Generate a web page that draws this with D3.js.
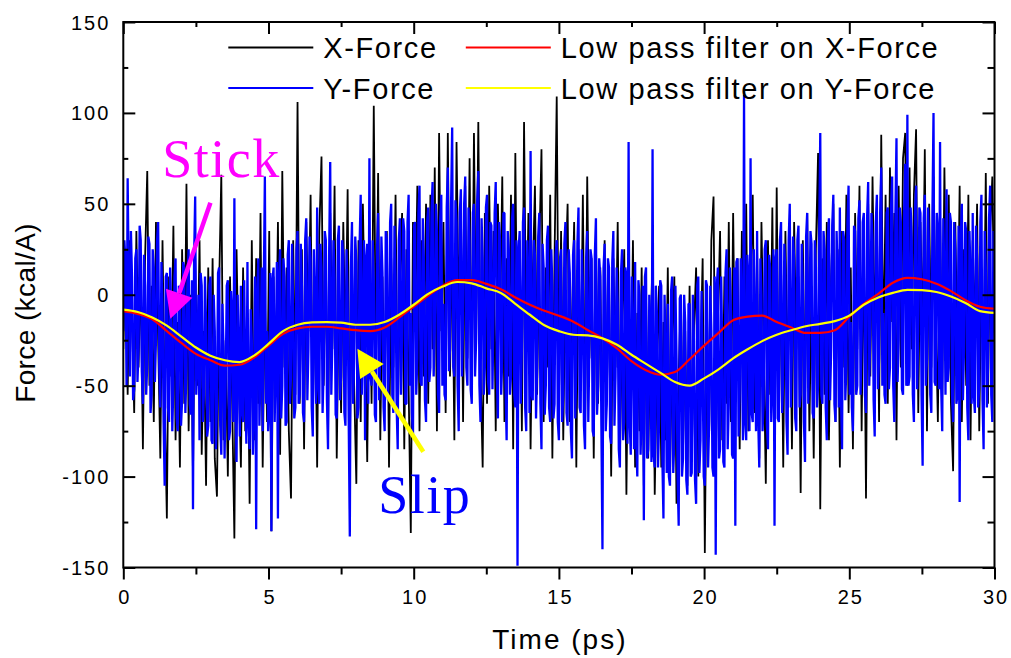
<!DOCTYPE html>
<html>
<head>
<meta charset="utf-8">
<script src="https://cdn.jsdelivr.net/npm/d3@7"></script>
<style>
    body { margin: 0; background: #fff; }
    text { font-family: "Liberation Sans", Arial, sans-serif; fill: #000; }
</style>
</head>
<body>
<div id="chart"></div>
<script>
// sampling steps of the raw force signals (ps)
var xStep = 0.075;
var yStep = 0.0375;

// raw X force, black (kcal/A)
var xForce = [
    -30, 25, -55, 30, -10, -65, 35, -40, 15, -85, 20, 68, -50, 5, -70, 40, -25, -90, 30, -60,
    -123, 10, -45, 38, -80, -15, -95, 25, -60, 61, -75, 0, -100, 20, -50, 30, -88, -20, -105, 15,
    -70, 20, -90, -111, 5, 66, -80, -25, -100, 10, -60, -134, 25, -45, -95, 15, -75, -10, -115, 30,
    -80, 20, -60, 45, -95, 0, -70, 35, -130, 10, -50, 40, -88, 68, -40, 15, -75, -112, 30, -55,
    106, -60, 25, -85, 40, -20, 55, -70, 10, -95, 35, 76, -50, 20, -80, 45, -30, 60, -90, 5,
    -65, 40, -30, 58, -85, 15, -50, -104, 30, -70, 50, -20, -92, 25, -60, 104, -40, 67, -80, 10,
    -55, 35, -95, 20, -40, 55, -70, 5, 45, -85, 25, -50, -131, 40, -20, 60, -75, 30, -45, 50,
    -60, 55, -30, 70, -75, 89, -20, 40, -65, 89, -45, 30, -80, 84, -10, 50, -70, 60, -35, 75,
    -55, 89, -25, 95, -40, -95, 45, -60, 60, -30, 35, -75, 50, -15, 65, -70, 20, -45, 55, -85,
    78, -50, 30, -75, 95, -30, 45, -85, 10, 60, -55, 25, 80, -70, 15, -40, 55, -90, 20, 109,
    -60, 35, -80, 10, 50, -70, -15, 40, -95, 25, -50, 55, -75, 65, -35, 20, -90, 30, -60, 15,
    -85, 30, -55, 10, -100, 20, -40, 40, -90, -20, 25, -110, 5, -65, 30, -95, -10, -75, 15, -105,
    0, -90, -25, 20, -110, -40, 5, -95, -15, -80, 15, -100, -30, 10, -115, -45, 0, -85, -20, -105,
    5, -90, -20, 15, -100, -35, 20, -142, -10, -75, 30, 54, -95, -15, 35, -80, 10, -60, 40, -70,
    45, -60, 20, -85, 35, -40, 50, -75, 10, 55, -65, 25, -90, 40, -30, -104, 30, -55, 48, -80,
    59, -70, 15, -95, 35, -45, 20, -85, 40, -30, 10, -109, 30, -60, 45, -75, 5, -90, 25, 78,
    -118, 20, -55, 40, -80, 10, 50, -70, 25, -95, 35, -40, 55, -65, 15, -85, 45, -30, 60, -75,
    30, -112, 50, -45, 65, -20, 40, -70, 88, -35, 55, -60, 70, -15, 45, -80, 60, -40, 75, 89,
    -50, 70, -30, 55, 91, -65, 40, -20, 80, -75, 50, -40, 65, -10, -70, 45, -55, 70, -25, 55,
    -60, -97, 40, -35, 60, -70, 25, -50, 55, -80, 30, -20, 50, -75, 15, -45, 67, -60, 35, 65,
    -20
];

// raw Y force, blue (kcal/A), 1.5 ps per row
var yForce = [
    -20, 30, 18, -50, 64, 5, -45, 35, 10, -58, -52, 20, 25, -48, -30, 38, 30, -42, -60, 22, 5, -55, -38, 32, 28, -65, -55, 25, 15, -48, -25, 30, 40, -40, -62, 18, -5, -70, -105, 10,
    12, -62, -70, 15, -10, -75, -48, 10, 20, -68, -75, 5, -5, -72, -58, 18, 15, -65, -40, 12, 25, -60, -66, 8, -118, 20, 54, -55, -35, 0, -80, 12, 5, -70, -55, 10, -15, -78, -72, 5,
    10, -80, -82, 0, -20, -85, -60, 12, 15, -72, -88, -5, -28, -90, -50, 5, 8, -80, -75, 2, -10, -70, 53, -60, -92, 0, -30, -78, 5, -65, -70, 8, -45, -82, 18, -70, -85, -8, -25, -88,
    -60, 10, -129, 0, 20, -72, -40, 15, -75, 5, 65, -60, -20, -75, -65, 12, -130, 8, 15, -70, -35, 18, -123, 10, 25, -68, -50, 20, 10, -72, -70, 22, 30, -60, -45, 28, -10, -68, -62, 25,
    35, -60, -55, 28, 5, -65, -70, 30, 42, -58, -30, 32, 20, -62, -78, 25, -5, -60, 48, -50, -60, 28, 15, -65, -40, 35, 30, -58, -85, 22, 73, -55, -25, 30, 10, -66, -68, 30, 38, -58,
    -45, 30, 22, -65, -72, 25, 0, -70, -133, 15, 40, -60, -35, 32, 18, -68, -62, 28, 55, -55, -20, 30, -80, 20, 28, -60, 75, -45, -50, 30, 8, -66, -70, 25, 45, -58, -30, 32, 12, -62,
    -75, 35, 30, -58, -40, 40, 50, -55, -65, 38, 10, -62, -85, 30, 42, -55, -25, 42, 35, -60, -60, 40, 55, -50, -10, -65, -78, 38, 40, -55, -35, 45, 60, -48, -50, 42, 20, -58, -70, 40,
    48, -48, -40, 45, 62, -45, -20, 50, 35, -55, -65, 42, 55, -50, -5, -55, -58, 48, 70, -42, -30, 50, 92, -40, -45, 52, 40, -50, -75, 45, 58, -45, -15, 50, 65, -40, -50, 48, 30, -52,
    -60, 45, 50, -45, -25, 52, 68, -50, -70, 42, 20, -55, -40, 48, 55, -48, -55, 40, 38, -52, -10, 45, 62, -45, -68, 40, 30, -55, -35, 45, 45, -50, -80, 35, 25, -55, -45, 42, 50, -55,
    -62, 30, -149, 25, 35, -60, -30, 40, 48, -62, -75, 30, 10, -65, 79, -55, -58, 30, 22, -68, -40, 32, 45, -60, -85, 28, 15, -66, -50, 30, 38, -62, -70, 25, 5, -68, -60, 22, 30, -70,
    -80, 20, 25, -70, -55, 28, 40, -65, -72, 25, 12, -75, -90, 22, 30, -68, -40, 28, 48, -62, -65, 25, 5, -72, -85, 20, 35, -70, -30, 25, 20, -75, -78, 22, 42, -66, -50, 20, 10, -72,
    -140, 15, 28, -75, -60, 20, 15, -78, -82, 18, 35, -72, -45, 15, -5, -85, -95, 12, 25, -80, -70, 15, 10, -82, 84, -70, -88, 10, -20, -85, 18, -80, -100, 8, 0, -88, -65, 5, -124, 10,
    15, -90, -85, 0, -20, -92, 80, -88, -95, 5, -10, -95, -70, 8, 5, -90, -123, 0, -30, -98, -5, -100, -105, 2, 10, -98, -80, 5, -35, -100, -127, -2, 0, -100, -90, 0, -15, -102, -110, -5,
    -5, -100, -98, 0, -25, -102, -115, 5, 10, -98, -80, 2, -40, -100, -105, 8, 5, -95, -70, 5, -20, -95, -100, 10, -143, 5, 15, -90, -85, 10, -30, -92, -95, 12, 25, -85, -60, 15, -10, -88,
    -90, 15, -127, 18, 20, -78, -55, 20, -15, -80, 110, -70, -80, 22, 10, -75, 75, -65, -70, 25, -20, -75, 35, -68, -95, 20, 0, -75, -60, 25, 30, -72, -85, 22, 15, -70, -50, 25, -127, 20,
    25, -68, -70, 30, 40, -65, -45, 28, 10, -70, -88, 30, 50, -62, -30, 32, 20, -68, -75, 30, 38, -62, -55, 28, 5, -70, -92, 32, 45, -60, -20, 35, 28, -65, -68, 30, 15, -62, -50, 32,
    89, -55, -60, 35, 25, -62, -80, 32, 42, -58, -30, 38, 55, -60, -70, 35, 10, -62, 48, -55, -85, 35, 30, -58, -40, 40, 60, -55, -15, -62, -75, 38, 35, -55, -50, 42, 52, -55, -25, 40,
    45, -55, -65, 42, 62, -50, -20, 45, 30, -58, -78, 40, 55, -52, -35, 45, 70, -50, -10, -55, -60, 45, 48, -52, -40, 48, 65, -50, -70, 45, 86, -48, -25, 48, 40, -52, -55, 45, 72, -50,
    99, -50, -45, 48, 30, -55, -70, 45, 60, -52, -20, 48, 45, -55, -94, 42, 55, -50, -35, 48, 20, -55, -65, 45, 100, -48, -50, 45, 35, -52, 84, -50, -75, 42, 10, -55, 58, -48, -40, 45,
    40, -55, -70, 40, 25, -60, -55, 38, -114, 30, 50, -58, -30, 40, 35, -62, -80, 35, 10, -60, 45, -55, -65, 38, 20, -62, -50, 40, 55, -58, -85, 35, 15, -62, -40, 42, 60, -55, -70, 35,
    -5
];

// low pass filtered signals, one value every 0.5 ps
var filterStep = 0.5;
var lowPassX = [
    -9, -10.5, -13.5, -20, -26.5, -32.5, -36, -39, -38.5, -34.6,
    -28, -21.5, -18.5, -17.6, -17.6, -18.5, -19.5, -20, -18, -12.5,
    -6.5, -0.5, 5, 8, 8, 6, 3, -1.5, -5.5, -8.8,
    -11.5, -14.8, -19.5, -24, -29.5, -36.5, -41.5, -44, -42.5, -35.5,
    -28, -21, -14, -12, -11.5, -15, -18, -21, -21, -19.5,
    -12, -5, 0.5, 6.6, 9.3, 8.5, 6, 2, -3, -6.6,
    -7.7
];
var lowPassY = [
    -8.2, -9.5, -12.5, -17, -23, -29, -33.5, -36, -37, -33.5,
    -27, -20, -16.5, -15.2, -15, -15.3, -16.5, -16.5, -15, -11,
    -5.5, 0.5, 4.5, 7, 6.3, 3.5, 1, -5, -11, -16.8,
    -20, -22, -22.3, -24, -27.5, -33, -38, -43, -48, -50,
    -46, -41, -35, -30, -25.5, -22, -19.5, -17.3, -16, -14.5,
    -11.5, -5.5, -1.5, 1, 2.7, 2.5, 1.5, -1, -4.5, -9,
    -10
];

var seriesNames = ["X-Force", "Y-Force", "Low pass filter on X-Force", "Low pass filter on Y-Force"];
var seriesColors = ["#000000", "#0000ff", "#ff0000", "#ffff00"];

var xMajorTicks = [0, 5, 10, 15, 20, 25, 30];
var xMinorTicks = [2.5, 7.5, 12.5, 17.5, 22.5, 27.5];
var yMajorTicks = [-150, -100, -50, 0, 50, 100, 150];
var yMinorTicks = [-125, -75, -25, 25, 75, 125];

// annotations in data units: label, text start, arrow tail, arrow tip
var stickNote = {text: "Stick", at: [1.34, 65], tail: [3.0, 50.6], tip: [1.62, -13.2], color: "#ff00ff"};
var slipNote = {text: "Slip", at: [8.78, -119.8], tail: [10.33, -86.3], tip: [8.06, -29.7], color: "#ffff00", textColor: "#0000ff"};

var W = 1011, H = 658;
var margin = {top: 22, right: 16.5, bottom: 90.5, left: 123.3};
var width = W - margin.left - margin.right,
    height = H - margin.top - margin.bottom;

var svg = d3.select("#chart")
    .append("svg")
    .attr("width", W)
    .attr("height", H);

var g = svg.append("g")
    .attr("transform", "translate(" + margin.left + "," + margin.top + ")");

var x = d3.scaleLinear().domain([0, 30]).range([0, width]);
var y = d3.scaleLinear().domain([-150, 150]).range([height, 0]);

g.append("clipPath").attr("id", "plotClip")
    .append("rect").attr("width", width).attr("height", height);

var plot = g.append("g").attr("clip-path", "url(#plotClip)");

function rawLine(step) {
    return d3.line()
        .x(function (d, i) { return x(i * step); })
        .y(function (d) { return y(d); });
}

var smoothLine = d3.line()
    .curve(d3.curveMonotoneX)
    .x(function (d, i) { return x(i * filterStep); })
    .y(function (d) { return y(d); });

plot.append("path").datum(xForce)
    .attr("d", rawLine(xStep))
    .attr("fill", "none")
    .attr("stroke", seriesColors[0])
    .attr("stroke-linejoin", "bevel")
    .attr("stroke-width", 1.8);

// thick enough that the dense Y trace fills its band
plot.append("path").datum(yForce)
    .attr("d", rawLine(yStep))
    .attr("fill", "none")
    .attr("stroke", seriesColors[1])
    .attr("stroke-linejoin", "bevel")
    .attr("stroke-width", 2.3);

plot.append("path").datum(lowPassX)
    .attr("d", smoothLine)
    .attr("fill", "none")
    .attr("stroke", seriesColors[2])
    .attr("stroke-width", 2.2);

plot.append("path").datum(lowPassY)
    .attr("d", smoothLine)
    .attr("fill", "none")
    .attr("stroke", seriesColors[3])
    .attr("stroke-width", 2.2);

// axes: ticks inward on left/top/right, outward on bottom
function styleAxis(sel) {
    sel.select(".domain").remove();
    sel.selectAll(".tick line").attr("stroke", "#000").attr("stroke-width", 2);
}

g.append("g").attr("transform", "translate(0," + height + ")")
    .call(d3.axisBottom(x).tickValues(xMajorTicks).tickSize(12).tickFormat(d3.format("d")))
    .call(styleAxis)
    .selectAll("text")
    .attr("y", 36.5).attr("dy", 0)
    .style("font-size", "20px").style("letter-spacing", "2px")
    .attr("dx", "1px")
    .style("font-family", "'Liberation Sans', Arial, sans-serif");

g.append("g").attr("transform", "translate(0," + height + ")")
    .call(d3.axisBottom(x).tickValues(xMinorTicks).tickSize(7).tickFormat(""))
    .call(styleAxis);

g.append("g")
    .call(d3.axisTop(x).tickValues(xMajorTicks).tickSize(-12).tickFormat(""))
    .call(styleAxis);
g.append("g")
    .call(d3.axisTop(x).tickValues(xMinorTicks).tickSize(-5).tickFormat(""))
    .call(styleAxis);

g.append("g")
    .call(d3.axisLeft(y).tickValues(yMajorTicks).tickSize(-12).tickPadding(13).tickFormat(d3.format("d")))
    .call(styleAxis)
    .selectAll("text")
    .attr("dy", "0.35em")
    .style("font-size", "20px").style("letter-spacing", "2px")
    .style("font-family", "'Liberation Sans', Arial, sans-serif")
    .text(function (d) { return String(d).replace("\u2212", "-"); });

g.append("g")
    .call(d3.axisLeft(y).tickValues(yMinorTicks).tickSize(-5).tickFormat(""))
    .call(styleAxis);

g.append("g").attr("transform", "translate(" + width + ",0)")
    .call(d3.axisRight(y).tickValues(yMajorTicks).tickSize(-12).tickFormat(""))
    .call(styleAxis);
g.append("g").attr("transform", "translate(" + width + ",0)")
    .call(d3.axisRight(y).tickValues(yMinorTicks).tickSize(-7).tickFormat(""))
    .call(styleAxis);

// frame
g.append("rect")
    .attr("width", width)
    .attr("height", height)
    .attr("fill", "none")
    .attr("stroke", "#000")
    .attr("stroke-width", 2);

// axis titles
g.append("text")
    .attr("x", width / 2 + 1)
    .attr("y", height + 81.5)
    .attr("text-anchor", "middle")
    .style("font-size", "28px")
    .style("letter-spacing", "2px")
    .text("Time (ps)");

svg.append("text")
    .attr("transform", "translate(35," + (margin.top + y(-10)) + ") rotate(-90)")
    .attr("text-anchor", "middle")
    .style("font-size", "28px")
    .style("letter-spacing", "0.4px")
    .text("Force (kcal/A)");

// legend, two columns
var legendItems = [
    {name: seriesNames[0], color: seriesColors[0], lx: 105, ly: 25.5},
    {name: seriesNames[1], color: seriesColors[1], lx: 105, ly: 66},
    {name: seriesNames[2], color: seriesColors[2], lx: 342.5, ly: 25.5},
    {name: seriesNames[3], color: seriesColors[3], lx: 342.5, ly: 66}
];

var legend = g.selectAll(".legend")
    .data(legendItems)
    .enter().append("g")
    .attr("class", "legend")
    .attr("transform", function (d) {
        return "translate(" + d.lx + "," + d.ly + ")";
    });

legend.append("line")
    .attr("x1", 0).attr("x2", 85)
    .attr("y1", 0).attr("y2", 0)
    .attr("stroke", function (d) { return d.color; })
    .attr("stroke-width", 2);

legend.append("text")
    .attr("x", 95)
    .attr("y", 10.5)
    .style("font-size", "29px")
    .style("letter-spacing", "1.6px")
    .text(function (d) { return d.name; });

// stick / slip annotations
function drawNote(note) {
    var t0 = [x(note.tail[0]), y(note.tail[1])],
        t1 = [x(note.tip[0]), y(note.tip[1])];
    var dx = t1[0] - t0[0], dy = t1[1] - t0[1];
    var len = Math.sqrt(dx * dx + dy * dy);
    var ux = dx / len, uy = dy / len;
    var headLen = 27, headHalf = 14;
    var base = [t1[0] - ux * headLen, t1[1] - uy * headLen];

    g.append("line")
        .attr("x1", t0[0]).attr("y1", t0[1])
        .attr("x2", base[0]).attr("y2", base[1])
        .attr("stroke", note.color)
        .attr("stroke-width", 4.5);

    g.append("path")
        .attr("d", "M" + t1[0] + "," + t1[1] +
            "L" + (base[0] - uy * headHalf) + "," + (base[1] + ux * headHalf) +
            "L" + (base[0] + uy * headHalf) + "," + (base[1] - ux * headHalf) + "Z")
        .attr("fill", note.color);

    g.append("text")
        .attr("x", x(note.at[0]))
        .attr("y", y(note.at[1]))
        .style("font-family", "'Liberation Serif', 'Times New Roman', serif")
        .style("font-size", "54px")
        .style("letter-spacing", "1.5px")
        .style("fill", note.textColor || note.color)
        .text(note.text);
}

drawNote(stickNote);
drawNote(slipNote);
</script>
</body>
</html>
